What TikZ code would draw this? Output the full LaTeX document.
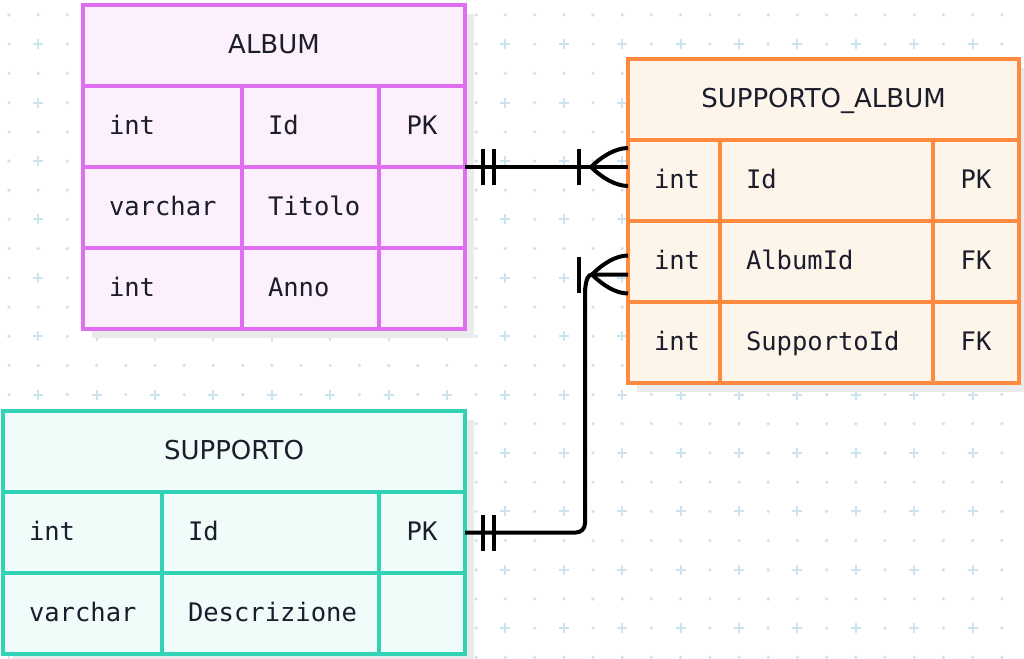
\documentclass[tikz,border=0pt]{standalone}
\usepackage{fontspec}
\setmonofont{DejaVu Sans Mono}
\newfontfamily\headfont{DejaVu Sans}
\usepackage{tikz}
\usetikzlibrary{calc,backgrounds}
\definecolor{inkcol}{HTML}{1B1C2C}
\definecolor{albumline}{HTML}{E06EF0}
\definecolor{albumfill}{HTML}{FCF0FD}
\definecolor{saline}{HTML}{FD8A3E}
\definecolor{safill}{HTML}{FDF4EA}
\definecolor{supline}{HTML}{33D1B5}
\definecolor{supfill}{HTML}{EFFCF9}
\definecolor{gridcol}{HTML}{CBE4EE}
\definecolor{shadowcol}{HTML}{EBEBEB}
\newcommand{\borderw}{3.5pt}
\newcommand{\relw}{4pt}
\newcommand{\pad}{26pt}
\tikzset{
  cell/.style={draw, line width=\borderw, anchor=north west, outer sep=0pt,
    inner ysep=0pt, minimum height=81pt, text=inkcol, text height=20pt, text depth=4pt,
    font=\ttfamily\fontsize{25.5}{30}\selectfont},
  lcell/.style={cell, inner xsep=\pad, text width=#1-52pt, align=left},
  ccell/.style={cell, inner xsep=0pt, minimum width=#1, align=center},
  hcell/.style={cell, inner xsep=0pt, minimum width=#1, align=center,
    font=\headfont\fontsize{26}{30}\selectfont},
  albumtab/.style={draw=albumline, fill=albumfill},
  satab/.style={draw=saline, fill=safill},
  suptab/.style={draw=supline, fill=supfill},
  rel/.style={draw=black, line width=\relw},
}

\begin{document}
\begin{tikzpicture}[x=1pt,y=-1pt]
\useasboundingbox (0,0) rectangle (1024,658);
% ALBUM
\node[hcell=382pt, albumtab] (album-h) at (83,5) {ALBUM};
\node[lcell=159pt, albumtab] (album-t1) at (83,86) {int};
\node[lcell=137pt, albumtab] (album-n1) at (242,86) {Id};
\node[ccell=86pt, albumtab] (album-pk1) at (379,86) {PK};
\node[lcell=159pt, albumtab] (album-t2) at (83,167) {varchar};
\node[lcell=137pt, albumtab] (album-n2) at (242,167) {Titolo};
\node[ccell=86pt, albumtab] (album-pk2) at (379,167) {};
\node[lcell=159pt, albumtab] (album-t3) at (83,248) {int};
\node[lcell=137pt, albumtab] (album-n3) at (242,248) {Anno};
\node[ccell=86pt, albumtab] (album-pk3) at (379,248) {};
% SUPPORTO_ALBUM
\node[hcell=391pt, satab] (sa-h) at (628,59) {SUPPORTO\_ALBUM};
\node[lcell=92pt, satab] (sa-t1) at (628,140) {int};
\node[lcell=213pt, satab] (sa-n1) at (720,140) {Id};
\node[ccell=86pt, satab] (sa-pk1) at (933,140) {PK};
\node[lcell=92pt, satab] (sa-t2) at (628,221) {int};
\node[lcell=213pt, satab] (sa-n2) at (720,221) {AlbumId};
\node[ccell=86pt, satab] (sa-pk2) at (933,221) {FK};
\node[lcell=92pt, satab] (sa-t3) at (628,302) {int};
\node[lcell=213pt, satab] (sa-n3) at (720,302) {SupportoId};
\node[ccell=86pt, satab] (sa-pk3) at (933,302) {FK};
% SUPPORTO
\node[hcell=462pt, suptab] (sup-h) at (3,411) {SUPPORTO};
\node[lcell=159pt, suptab] (sup-t1) at (3,492) {int};
\node[lcell=217pt, suptab] (sup-n1) at (162,492) {Id};
\node[ccell=86pt, suptab] (sup-pk1) at (379,492) {PK};
\node[lcell=159pt, suptab] (sup-t2) at (3,573) {varchar};
\node[lcell=217pt, suptab] (sup-n2) at (162,573) {Descrizione};
\node[ccell=86pt, suptab] (sup-pk2) at (379,573) {};
%grid and shadows
\begin{scope}[on background layer]
\fill[white] (0,0) rectangle (1024,658);
\foreach \i in {0,...,34} {
  \foreach \j in {0,...,22} {
    \pgfmathparse{int(mod(\i,2)*mod(\j,2))}
    \ifnum\pgfmathresult=1
      \draw[gridcol, line width=2pt] (9+29.2*\i-5,15+29.2*\j) -- ++(10,0) (9+29.2*\i,15+29.2*\j-5) -- ++(0,10);
    \else
      \fill[gridcol] (9+29.2*\i,15+29.2*\j) circle (1.8pt);
    \fi
  }
}
\fill[shadowcol] ($(album-h.north west)+(9,9)$) rectangle ($(album-pk3.south east)+(9,9)$);
\fill[shadowcol] ($(sa-h.north west)+(9,9)$) rectangle ($(sa-pk3.south east)+(9,9)$);
\fill[shadowcol] ($(sup-h.north west)+(9,9)$) rectangle ($(sup-pk2.south east)+(9,9)$);
\end{scope}
% ALBUM -- SUPPORTO_ALBUM
\coordinate (one1) at (album-pk1.south east);
\coordinate (many1) at (one1 -| sa-t1.west);
\draw[rel] (one1) -- (many1);
\draw[rel] ($(one1)+(18,-18)$) -- ($(one1)+(18,18)$);
\draw[rel] ($(one1)+(29,-18)$) -- ($(one1)+(29,18)$);
\draw[rel] ($(many1)+(-49,-18)$) -- ($(many1)+(-49,18)$);
\draw[rel] ($(many1)+(-37,0)$) .. controls ($(many1)+(-26,-11)$) and ($(many1)+(-12,-19)$) .. ($(many1)+(0,-19)$);
\draw[rel] ($(many1)+(-37,0)$) .. controls ($(many1)+(-26,11)$) and ($(many1)+(-12,19)$) .. ($(many1)+(0,19)$);
% SUPPORTO -- SUPPORTO_ALBUM
\coordinate (one2) at (sup-pk1.east);
\coordinate (many2) at ($(sa-t2.west)+(0,13)$);
\draw[rel, rounded corners=9pt] (one2) -| ($(many2)+(-43,14)$);
\draw[rel] ($(many2)+(-43,16)$) .. controls ($(many2)+(-42,5)$) and ($(many2)+(-40,0)$) .. ($(many2)+(-36,0)$) -- (many2);
\draw[rel] ($(one2)+(18,-18)$) -- ($(one2)+(18,18)$);
\draw[rel] ($(one2)+(29,-18)$) -- ($(one2)+(29,18)$);
\draw[rel] ($(many2)+(-49,-18)$) -- ($(many2)+(-49,18)$);
\draw[rel] ($(many2)+(-36,0)$) .. controls ($(many2)+(-25,-11)$) and ($(many2)+(-12,-19)$) .. ($(many2)+(0,-19)$);
\draw[rel] ($(many2)+(-36,0)$) .. controls ($(many2)+(-25,11)$) and ($(many2)+(-12,19)$) .. ($(many2)+(0,19)$);
\end{tikzpicture}
\end{document}
